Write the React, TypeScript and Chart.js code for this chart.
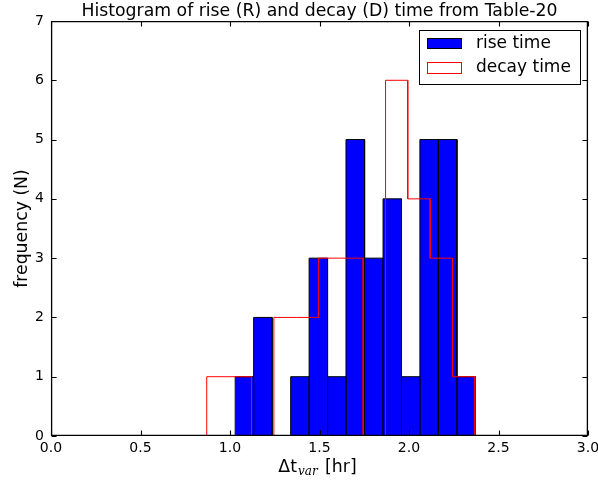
import React, { useEffect, useRef } from 'react';
import { Chart, registerables } from 'chart.js';
Chart.register(...registerables);

// ---- data ----
const riseEdges = [1.029, 1.132, 1.235, 1.339, 1.442, 1.545, 1.648, 1.752, 1.855, 1.958, 2.061, 2.164, 2.268, 2.371];
const riseCounts = [1, 2, 0, 1, 3, 1, 5, 3, 4, 1, 5, 5, 1];
const decayEdges = [0.870, 0.995, 1.120, 1.245, 1.370, 1.494, 1.619, 1.744, 1.869, 1.993, 2.118, 2.243, 2.368];
const decayCounts = [1, 1, 0, 2, 2, 3, 3, 0, 6, 4, 3, 1];
const xTicks = [0, 0.5, 1.0, 1.5, 2.0, 2.5, 3.0];
const yTicks = [0, 1, 2, 3, 4, 5, 6, 7];
const titleText = 'Histogram of rise (R) and decay (D) time from Table-20';
const yLabel = 'frequency (N)';
const xLabelMain = '\u0394t';
const xLabelSub = 'var';
const xLabelTail = ' [hr]';
const legendLabels = ['rise time', 'decay time'];

const FONT = "'DejaVu Sans', sans-serif";
const BIG = 17.3;

export default function App() {
  const ref = useRef<HTMLCanvasElement>(null);
  useEffect(() => {
    document.body.style.margin = '0';
    const canvas = ref.current!;
    const riseData: { x: number; y: number }[] = [];
    riseCounts.forEach((c, i) => {
      if (!c) return;
      riseData.push({ x: riseEdges[i], y: 0 });
      riseData.push({ x: riseEdges[i], y: c });
      riseData.push({ x: riseEdges[i + 1], y: c });
      riseData.push({ x: riseEdges[i + 1], y: 0 });
    });
    const stepData: { x: number; y: number }[] = [];
    stepData.push({ x: decayEdges[0], y: 0 });
    decayCounts.forEach((c, i) => {
      stepData.push({ x: decayEdges[i], y: c });
      stepData.push({ x: decayEdges[i + 1], y: c });
    });
    stepData.push({ x: decayEdges[decayEdges.length - 1], y: 0 });

    const decor = {
      id: 'decor',
      afterDraw(chart: any) {
        const ctx = chart.ctx as CanvasRenderingContext2D;
        const a = chart.chartArea;
        const xs = chart.scales.x;
        const ys = chart.scales.y;
        ctx.save();
        ctx.strokeStyle = '#000';
        ctx.lineWidth = 1.3;
        ctx.lineCap = 'butt';
        const L = a.left + 0.6;
        const R = a.right - 0.6;
        const T = a.top + 0.6;
        const B = a.bottom - 0.6;
        ctx.beginPath();
        ctx.rect(L, T, R - L, B - T);
        ctx.stroke();
        // ticks (inward, all four sides)
        ctx.lineWidth = 1.1;
        ctx.beginPath();
        xTicks.forEach((v) => {
          const px = Math.round(xs.getPixelForValue(v)) + 0.5;
          ctx.moveTo(px, B); ctx.lineTo(px, B - 5);
          ctx.moveTo(px, T); ctx.lineTo(px, T + 5);
        });
        yTicks.forEach((v) => {
          const py = Math.round(ys.getPixelForValue(v)) + 0.5;
          ctx.moveTo(L, py); ctx.lineTo(L + 5, py);
          ctx.moveTo(R, py); ctx.lineTo(R - 5, py);
        });
        ctx.stroke();

        ctx.fillStyle = '#000';
        // title
        ctx.font = `${BIG}px ${FONT}`;
        ctx.textAlign = 'center';
        ctx.textBaseline = 'alphabetic';
        ctx.fillText(titleText, (a.left + a.right) / 2, 16);

        // y label
        ctx.save();
        ctx.translate(23, (a.top + a.bottom) / 2);
        ctx.rotate(-Math.PI / 2);
        ctx.textBaseline = 'middle';
        ctx.fillText(yLabel, 0, 0);
        ctx.restore();

        // x label with subscript
        ctx.textAlign = 'left';
        ctx.textBaseline = 'alphabetic';
        const mainFont = `${BIG}px ${FONT}`;
        const subFont = `italic 12px 'DejaVu Serif', serif`;
        ctx.font = mainFont;
        const w1 = ctx.measureText(xLabelMain).width;
        const w3 = ctx.measureText(xLabelTail).width;
        ctx.font = subFont;
        const w2 = ctx.measureText(xLabelSub).width;
        const gap = 2;
        const total = w1 + w2 + w3 + 1 + gap;
        let x0 = (a.left + a.right) / 2 - total / 2 - 2;
        const base = 472;
        ctx.font = mainFont;
        ctx.fillText(xLabelMain, x0, base);
        x0 += w1 + 1;
        ctx.font = subFont;
        ctx.fillText(xLabelSub, x0, base + 3);
        x0 += w2 + gap;
        ctx.font = mainFont;
        ctx.fillText(xLabelTail, x0, base);

        // legend
        const lx = 419, ly = 30, lw = 161, lh = 54;
        ctx.fillStyle = '#fff';
        ctx.fillRect(lx, ly, lw, lh);
        ctx.fillStyle = '#000';
        ctx.fillRect(lx, ly, lw + 1, 1);
        ctx.fillRect(lx, ly + lh, lw + 1, 1);
        ctx.fillRect(lx, ly, 1, lh + 1);
        ctx.fillRect(lx + lw, ly, 1, lh + 1);
        ctx.fillStyle = '#0000ff';
        ctx.fillRect(427, 38, 35, 11);
        ctx.strokeStyle = '#000';
        ctx.lineWidth = 1;
        ctx.strokeRect(427.5, 38.5, 34, 10);
        ctx.strokeStyle = '#ff0000';
        ctx.strokeRect(427.5, 62.5, 34, 11);
        ctx.fillStyle = '#000';
        ctx.font = `17px ${FONT}`;
        ctx.textBaseline = 'middle';
        ctx.fillText(legendLabels[0], 476, 44);
        ctx.fillText(legendLabels[1], 476, 68);
        ctx.restore();
      },
    };

    const chart = new Chart(canvas, {
      type: 'line',
      data: {
        datasets: [
          {
            label: legendLabels[1],
            data: stepData,
            borderColor: '#ff0000',
            borderWidth: 1,
            pointRadius: 0,
            fill: false,
            tension: 0,
            order: 0,
          } as any,
          {
            label: legendLabels[0],
            data: riseData,
            backgroundColor: '#0000ff',
            borderColor: '#000000',
            borderWidth: 1,
            pointRadius: 0,
            fill: 'origin',
            tension: 0,
            order: 1,
          } as any,
        ],
      },
      options: {
        animation: false,
        responsive: false,
        devicePixelRatio: 1,
        layout: { padding: { top: 21, right: 10, left: 0, bottom: 0 } },
        plugins: { legend: { display: false }, tooltip: { enabled: false }, title: { display: false } },
        scales: {
          x: {
            type: 'linear',
            min: 0,
            max: 3,
            offset: false,
            grid: { display: false, drawTicks: false },
            border: { display: false },
            ticks: {
              stepSize: 0.5,
              color: '#000',
              font: { family: FONT, size: 14 },
              padding: 4,
              maxRotation: 0,
              callback: (v: any) => Number(v).toFixed(1),
            },
            afterFit: (s: any) => { s.height = 48; s.paddingLeft = 0; s.paddingRight = 0; },
          },
          y: {
            type: 'linear',
            min: 0,
            max: 7,
            grid: { display: false, drawTicks: false },
            border: { display: false },
            ticks: {
              stepSize: 1,
              color: '#000',
              font: { family: FONT, size: 14 },
              padding: 7,
              callback: (v: any) => String(v),
            },
            afterFit: (s: any) => { s.width = 51; s.paddingTop = 0; s.paddingBottom = 0; },
          },
        },
      } as any,
      plugins: [decor],
    });
    return () => chart.destroy();
  }, []);
  return (
    <div style={{ position: 'absolute', left: 0, top: 0, width: 598, height: 484, background: '#fff' }}>
      <canvas ref={ref} width={598} height={484} />
    </div>
  );
}
